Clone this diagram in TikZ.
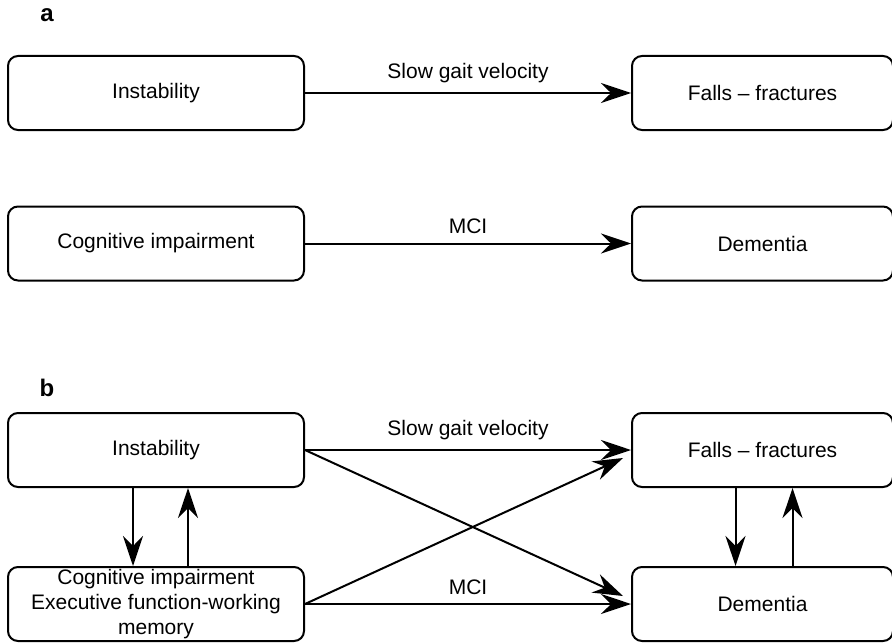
\documentclass[tikz,border=0pt]{standalone}
\usepackage{fontspec}
\setmainfont{Liberation Sans}
\usetikzlibrary{positioning,arrows.meta,calc}

\begin{document}
\begin{tikzpicture}[
    font=\fontsize{10.5}{12.5}\selectfont,
    >={Stealth[length=15pt, width=10pt, inset=5pt]},
    box/.style={rectangle, draw, line width=1pt, rounded corners=5pt, minimum height=37pt, inner sep=0.5pt, align=center},
    lbox/.style={box, minimum width=148pt},
    rbox/.style={box, minimum width=130.5pt},
    panel/.style={font=\fontsize{12}{14}\selectfont\bfseries},
    arrow/.style={->, line width=1pt}
]
    \useasboundingbox (0,0) rectangle (446pt,-321pt);

    % Panel a
    \node (labela) [panel] at (23.5pt,-7.5pt) {a};
    \node (insta) [lbox] at (78pt,-46.5pt) {Instability};
    \node (fallsa) [rbox, right=163pt of insta] {Falls -- fractures};
    \node (coga) [lbox, below=37.25pt of insta] {Cognitive impairment};
    \node (dema) [rbox, right=163pt of coga] {Dementia};

    \draw [arrow] (insta) -- node[above=1pt] (slowa) {Slow gait velocity} (fallsa);
    \draw [arrow] (coga) -- node[above=1pt] (mcia) {MCI} (dema);

    % Panel b
    \node (labelb) [panel] at (23.5pt,-194pt) {b};
    \node (instb) [lbox] at (78pt,-225pt) {Instability};
    \node (fallsb) [rbox, right=163pt of instb] {Falls -- fractures};
    \node (cogb) [lbox, below=39pt of instb] {Cognitive impairment\\Executive function-working\\memory};
    \node (demb) [rbox, right=163pt of cogb] {Dementia};

    % Ends of the crossing arrows
    \coordinate (fallsin) at ($(fallsb.west)+(-4pt,-4pt)$);
    \coordinate (demin) at ($(demb.west)+(-4pt,4pt)$);

    \draw [arrow] (instb) -- node[above=1pt] (slowb) {Slow gait velocity} (fallsb);
    \draw [arrow] (cogb) -- node[above=1pt] (mcib) {MCI} (demb);
    \draw [arrow] (instb.east) -- (demin);
    \draw [arrow] (cogb.east) -- (fallsin);

    % Two-way links
    \draw [arrow] ([xshift=-11.5pt]instb.south) -- ([xshift=-11.5pt]cogb.north);
    \draw [arrow] ([xshift=16pt]cogb.north) -- ([xshift=16pt]instb.south);
    \draw [arrow] ([xshift=-13.5pt]fallsb.south) -- ([xshift=-13.5pt]demb.north);
    \draw [arrow] ([xshift=15pt]demb.north) -- ([xshift=15pt]fallsb.south);

\end{tikzpicture}
\end{document}
